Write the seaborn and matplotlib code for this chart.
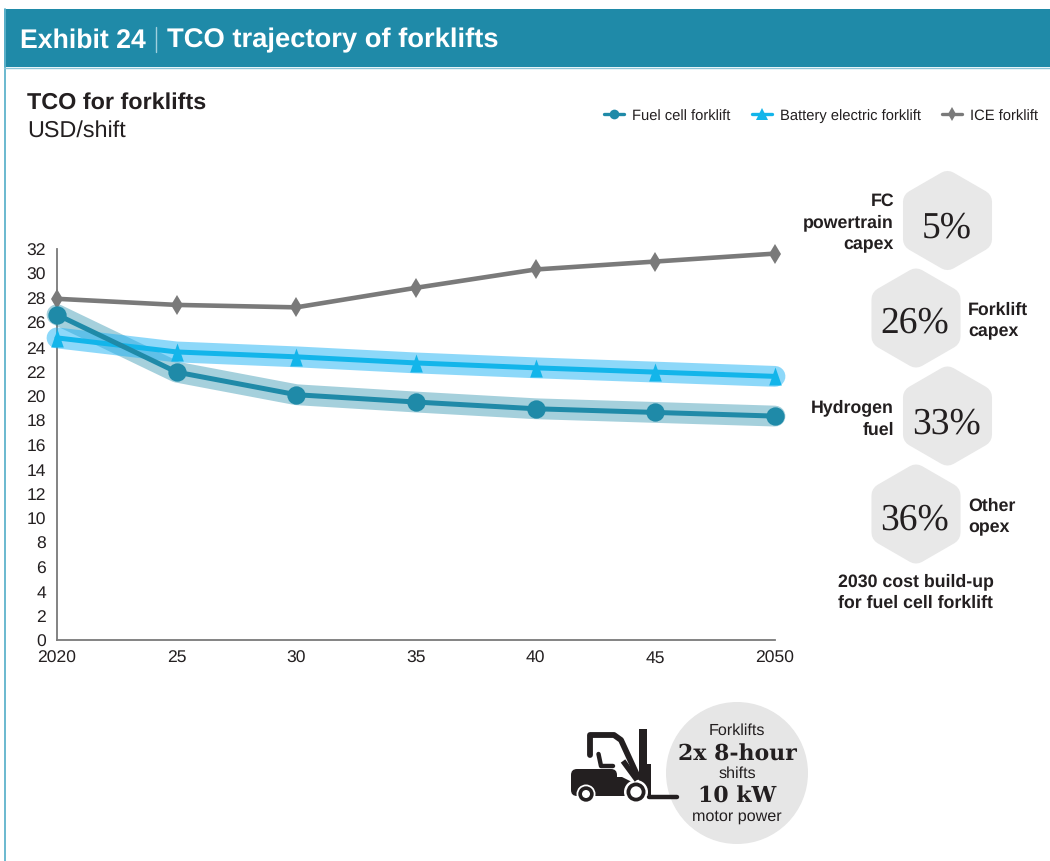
import seaborn as sns
import matplotlib.pyplot as plt
from matplotlib.lines import Line2D
from matplotlib.patches import Rectangle, Polygon, Circle, FancyBboxPatch
import numpy as np

# data
years = [2020, 2025, 2030, 2035, 2040, 2045, 2050]
year_labels = ['2020', '25', '30', '35', '40', '45', '2050']
y_ticks = list(range(0, 33, 2))
fuel_cell = [26.6, 21.9, 20.05, 19.45, 18.9, 18.6, 18.3]
battery = [24.7, 23.55, 23.15, 22.65, 22.25, 21.9, 21.55]
ice = [27.9, 27.4, 27.2, 28.8, 30.3, 30.95, 31.6]
shares = ['5%', '26%', '33%', '36%']

TEAL = '#1f8aa8'
CYAN = '#13b5ea'
GREY = '#7a7a7a'
DARK = '#231f20'

sns.set_style('white')
plt.rcParams['font.family'] = ['Liberation Sans', 'DejaVu Sans']
plt.rcParams['text.hinting'] = 'no_hinting'

W, H = 1050, 862
fig = plt.figure(figsize=(W / 100, H / 100), dpi=100)

# pixel canvas for the page furniture
bg = fig.add_axes([0, 0, 1, 1], zorder=0)
bg.set_xlim(0, W)
bg.set_ylim(H, 0)
bg.axis('off')

bg.add_patch(Rectangle((4, 10), W, 58, color=TEAL, lw=0))
bg.plot([4.5, 4.5], [10, H], color='#5fb3cc', lw=1.3)
bg.plot([4, W], [68.5, 68.5], color='#8cc6d8', lw=1)
bg.text(20, 40.5, 'Exhibit 24', color='white', fontsize=19.2, fontweight='bold', va='center')
bg.plot([156, 156], [28, 53], color='#9fd0de', lw=1)
bg.text(167, 40.5, 'TCO trajectory of forklifts', color='white', fontsize=19.7, fontweight='bold', va='center')
bg.text(27, 102.5, 'TCO for forklifts', color=DARK, fontsize=16.8, fontweight='bold', va='center')
bg.text(27, 130.5, 'USD/shift', color=DARK, fontsize=16.8, va='center')

# hexagons with the 2030 build-up
hex_x = [947.5, 916, 947.5, 916]
hex_y = [221.5, 319, 417, 515]
label_dy = [7, 4, 7, 5]
for cx, cy, s, dy in zip(hex_x, hex_y, shares, label_dy):
    ang = np.radians(np.arange(6) * 60 + 30)
    pts = np.column_stack([cx + 37.3 * np.cos(ang), cy + 37.3 * np.sin(ang)])
    bg.add_patch(Polygon(pts, closed=True, facecolor='#e8e8e8', edgecolor='#e8e8e8',
                         lw=17.6, joinstyle='round'))
    bg.text(cx - 1, cy + dy, s, color=DARK, fontsize=27, family='Liberation Serif',
            ha='center', va='center')

side = dict(color=DARK, fontsize=12.75, fontweight='bold', va='center', linespacing=1.4)
bg.text(894, 223, 'FC\npowertrain\ncapex', ha='right', multialignment='right', **side)
bg.text(968, 321, 'Forklift\ncapex', ha='left', **side)
bg.text(894, 419, 'Hydrogen\nfuel', ha='right', multialignment='right', **side)
bg.text(968, 517, 'Other\nopex', ha='left', **side)
bg.text(916, 592.5, '2030 cost build-up\nfor fuel cell forklift', ha='center', multialignment='left', **side)

# info circle
bg.add_patch(Circle((737, 774), 71, color='#e6e6e6', lw=0))
small = dict(color=DARK, fontsize=11.6, ha='center', va='center')
big = dict(color=DARK, fontsize=15.8, ha='center', va='center', family='DejaVu Serif',
           fontweight='bold')
bg.text(737, 731, 'Forklifts', **small)
bg.text(737, 755, '2x 8-hour', **big)
bg.text(737, 774, 'shifts', **small)
bg.text(737, 797, '10 kW', **big)
bg.text(737, 817, 'motor power', **small)

# forklift icon
K = '#231f20'
bg.add_patch(FancyBboxPatch((571, 770), 46, 27, boxstyle='round,pad=0,rounding_size=6', color=K, lw=0))
bg.add_patch(Polygon([(610, 778), (622, 778), (636, 785), (636, 797), (610, 797)], color=K, lw=0))
bg.plot([590, 590, 614, 621, 638], [756, 736, 736, 741, 778], color=K, lw=4.2, solid_joinstyle='round')
bg.plot([623, 637], [762, 781], color=K, lw=4, solid_capstyle='butt')
bg.plot([598.5, 601, 613], [755, 767, 767], color=K, lw=3.2, solid_capstyle='round', solid_joinstyle='round')
bg.add_patch(Rectangle((639, 730), 8, 65, color=K, lw=0))
bg.add_patch(Rectangle((646, 765), 5, 31, color=K, lw=0))
bg.plot([649, 677], [798, 798], color=K, lw=3.2, solid_capstyle='round')
for wx, wy, halo, rim, hub in [(586, 795, 9.5, 7.7, 4), (636, 793, 12, 9.5, 5.7)]:
    bg.add_patch(Circle((wx, wy), halo, color='white', lw=0))
    bg.add_patch(Circle((wx, wy), rim, color=K, lw=0))
    bg.add_patch(Circle((wx, wy), hub, color='white', lw=0))

# main chart
ax = fig.add_axes([57 / W, 1 - 640.7 / H, (775 - 57) / W, (640 - 249) / H], zorder=2)
ax.patch.set_alpha(0)

sns.lineplot(x=years, y=fuel_cell, color=TEAL, alpha=0.4, lw=15, solid_capstyle='round',
             clip_on=False, ax=ax, zorder=2)
sns.lineplot(x=years, y=battery, color='#1cb2f5', alpha=0.5, lw=15, solid_capstyle='round',
             clip_on=False, ax=ax, zorder=2)
sns.lineplot(x=years, y=ice, color=GREY, lw=3.3, marker='d', markersize=10, mew=0,
             clip_on=False, ax=ax, zorder=3)
sns.lineplot(x=years, y=battery, color=CYAN, lw=3.6,
             marker=[(-0.7, -1), (0.7, -1), (0, 1)], markersize=13, mew=0,
             clip_on=False, ax=ax, zorder=4)
sns.lineplot(x=years, y=fuel_cell, color=TEAL, lw=3.6, marker='o', markersize=13.2, mew=0,
             clip_on=False, ax=ax, zorder=5)

ax.set_xlim(2020, 2050)
ax.set_ylim(0, 32)
ax.set_xticks(years)
ax.set_xticklabels(year_labels)
ax.set_yticks(y_ticks)
ax.tick_params(axis='both', length=0, labelsize=12.6, labelcolor=DARK)
ax.tick_params(axis='x', pad=7)
ax.tick_params(axis='y', pad=8)
sns.despine(ax=ax)
for name in ['left', 'bottom']:
    ax.spines[name].set_color(GREY)
    ax.spines[name].set_linewidth(1.3)
    ax.spines[name].set_zorder(1)

handles = [
    Line2D([], [], color=TEAL, lw=2.4, marker='o', ms=7, mew=0, label='Fuel cell forklift'),
    Line2D([], [], color=CYAN, lw=2.4, marker='^', ms=8, mew=0, label='Battery electric forklift'),
    Line2D([], [], color=GREY, lw=2.4, marker='d', ms=7, mew=0, label='ICE forklift'),
]
fig.legend(handles=handles, loc='center right', bbox_to_anchor=(1038 / W, 1 - 116.5 / H), ncol=3,
           frameon=False, fontsize=10.6, labelcolor=DARK, handlelength=1.36, handletextpad=0.55,
           columnspacing=1.43, borderpad=0, borderaxespad=0)

fig.savefig('out.png', dpi=100)
